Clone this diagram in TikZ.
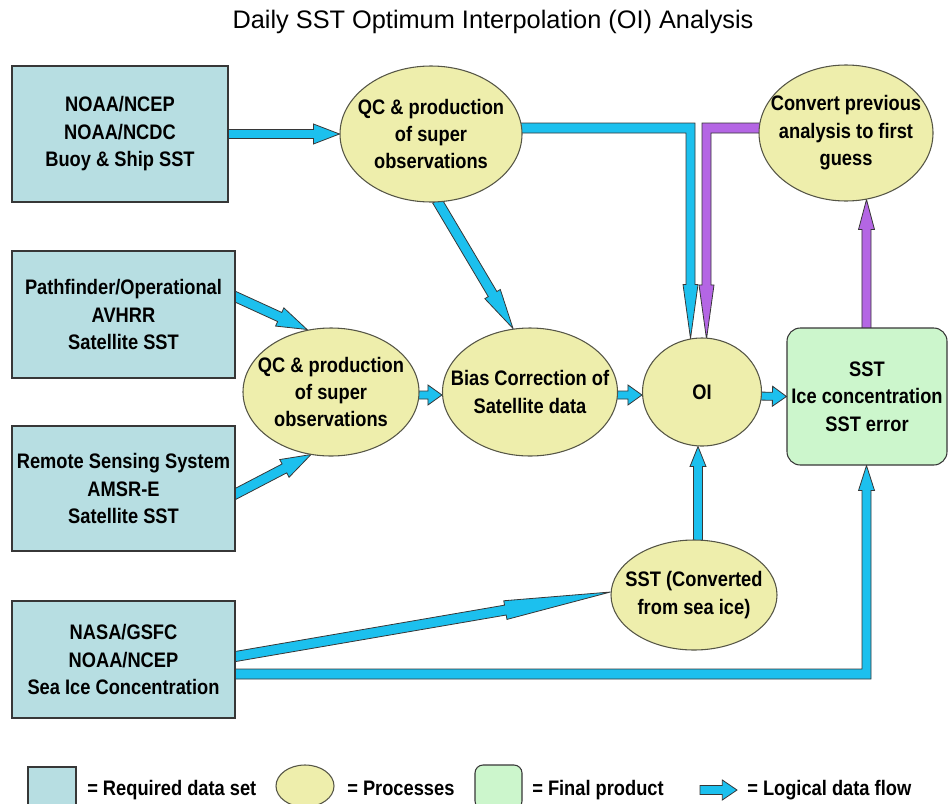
\documentclass[tikz,border=0pt]{standalone}
\usepackage{fontspec}
\setmainfont{Liberation Sans}
\newfontfamily\lblfont{Liberation Sans}[FakeStretch=0.87]
\newfontfamily\titlefont{Liberation Sans}
\usetikzlibrary{shapes.geometric,calc,backgrounds}
\definecolor{dsblue}{RGB}{183,222,226}
\definecolor{procyel}{RGB}{238,238,172}
\definecolor{fingreen}{RGB}{204,246,204}
\definecolor{flowblue}{RGB}{28,192,238}
\definecolor{flowpurple}{RGB}{180,102,228}
\definecolor{edgegray}{RGB}{55,55,55}
\definecolor{procedge}{RGB}{85,85,70}
\newcommand{\lbl}{\lblfont\bfseries\fontsize{15.75}{20.6}\selectfont}
% straight block arrow: #1 style, #2 start, #3 tip, #4 half shaft, #5 half head, #6 head length
\newcommand{\blockarrow}[6]{%
  \path (#2) coordinate (baS) (#3) coordinate (baT);
  \path ($(baT)!#6!(baS)$) coordinate (baM);
  \filldraw[#1] ($(baS)!#4!90:(baT)$) -- ($(baM)!#4!90:(baT)$) -- ($(baM)!#5!90:(baT)$)
    -- (baT) -- ($(baM)!#5!-90:(baT)$) -- ($(baM)!#4!-90:(baT)$) -- ($(baS)!#4!-90:(baT)$) -- cycle;}
\tikzset{
  databox/.style={draw=edgegray, fill=dsblue, line width=0.8pt, inner sep=0pt, align=center, font=\lbl},
  proc/.style={ellipse, draw=procedge, fill=procyel, line width=0.8pt, inner sep=0pt},
  proctext/.style={label={[font=\lbl, align=center, inner sep=0pt]center:#1}},
  final/.style={draw=edgegray, fill=fingreen, line width=0.8pt, rounded corners=10pt, inner sep=0pt, align=center, font=\lbl},
  flow/.style={draw=edgegray, line width=0.6pt, fill=flowblue, line join=miter},
  flowp/.style={flow, fill=flowpurple},
  legtext/.style={anchor=base west, inner sep=0pt, font=\lbl}
}
\begin{document}
\begin{tikzpicture}[x=0.75pt,y=-0.75pt]
\useasboundingbox (0,0) rectangle (948,803);
\clip (0,0) rectangle (948,803);

\node[inner sep=0pt, font=\titlefont\fontsize{19}{22}\selectfont] (title) at (493,22) {Daily SST Optimum Interpolation (OI) Analysis};

% data sets
\node[databox, minimum width=162pt, minimum height=102pt] (b1) at (120,134) {NOAA/NCEP\\NOAA/NCDC\\Buoy \& Ship SST};
\node[databox, minimum width=167.25pt, minimum height=95.25pt] (b2) at (123.5,314.5) {Pathfinder/Operational\\AVHRR\\Satellite SST};
\node[databox, minimum width=167.25pt, minimum height=93.75pt] (b3) at (123.5,488.5) {Remote Sensing System\\AMSR-E\\Satellite SST};
\node[databox, minimum width=167.25pt, minimum height=87.75pt] (b4) at (123.5,659.5) {NASA/GSFC\\NOAA/NCEP\\Sea Ice Concentration};

% processes
\node[proc, minimum width=136.5pt, minimum height=102pt, proctext={QC \& production\\of super\\observations}] (e1) at (431,134) {};
\node[proc, minimum width=132pt, minimum height=96pt, proctext={QC \& production\\of super\\observations}] (e2) at (331,392) {};
\node[proc, minimum width=131.25pt, minimum height=96pt, proctext={Bias Correction of\\Satellite data}] (e3) at (530,392) {};
\node[proc, minimum width=89.25pt, minimum height=81pt, proctext={OI}] (e4) at (702,392) {};
\node[proc, minimum width=124.5pt, minimum height=82.5pt, proctext={SST (Converted\\from sea ice)}] (e5) at (694,595) {};
\node[proc, minimum width=130.5pt, minimum height=102pt, proctext={Convert previous\\analysis to first\\guess}] (e6) at (846,133) {};

% final product
\node[final, minimum width=120pt, minimum height=102.75pt] (g) at (867,396.5) {SST\\Ice concentration\\SST error};

% connectors
\begin{scope}[on background layer]
\blockarrow{flow}{b1.east}{e1.west}{3.4pt}{7.5pt}{19.5pt}
\blockarrow{flow}{$(e1.south)+(6,-2)$}{$(e3.north)+(-17,1)$}{3.75pt}{6.75pt}{30pt}
\blockarrow{flow}{$(b2.east)+(-5,-20)$}{$(e2.north)+(-24,2)$}{3.75pt}{7.5pt}{22.5pt}
\blockarrow{flow}{$(b3.east)+(-5,8)$}{$(e2.south)+(-20,-2)$}{3.75pt}{7.5pt}{22.5pt}
\blockarrow{flow}{$(e2.east)+(-5,3)$}{$(e3.west)+(0,3)$}{3pt}{7.5pt}{10.5pt}
\blockarrow{flow}{$(e3.east)+(-5,3)$}{$(e4.west)+(0,3)$}{3pt}{7.5pt}{10.5pt}
\blockarrow{flow}{$(e4.east)+(-5,4)$}{g.west}{3pt}{7.5pt}{10.5pt}
\blockarrow{flow}{$(e5.north)+(4,5)$}{$(e4.south)+(-4,0)$}{3.4pt}{6pt}{15pt}
\blockarrow{flow}{$(b4.east)+(-3,-2.5)$}{$(e5.west)+(0,-3)$}{3.75pt}{7.1pt}{80pt}
\blockarrow{flowp}{$(g.north)+(-0.5,2)$}{$(e6.south)+(20.5,-2)$}{3.4pt}{6pt}{22.5pt}

% elbow: e1 -> OI (blue)
\coordinate (cA) at (690.5,128);
\coordinate (tA) at ($(e4.north)+(-11.5,1)$);
\filldraw[flow] ($(e1.east|-cA)+(-4,-5)$) -- ($(cA)+(4.5,-5)$) -- ($(tA)+(4.5,-54)$) -- ($(tA)+(7.5,-54)$)
  -- (tA) -- ($(tA)+(-7.5,-54)$) -- ($(tA)+(-4.5,-54)$) -- ($(cA)+(-4.5,5)$) -- ($(e1.east|-cA)+(-4,5)$) -- cycle;
% elbow: e6 -> OI (purple)
\coordinate (cB) at (706.5,128);
\coordinate (tB) at ($(e4.north)+(4.5,1.5)$);
\filldraw[flowp] ($(e6.west|-cB)+(4,-5)$) -- ($(cB)+(-4.5,-5)$) -- ($(tB)+(-4.5,-54)$) -- ($(tB)+(-7.5,-54)$)
  -- (tB) -- ($(tB)+(7.5,-54)$) -- ($(tB)+(4.5,-54)$) -- ($(cB)+(4.5,5)$) -- ($(e6.west|-cB)+(4,5)$) -- cycle;
% elbow: sea ice -> final product
\coordinate (cC) at (866.5,674);
\coordinate (tC) at ($(g.south)+(-0.5,0)$);
\filldraw[flow] ($(b4.east|-cC)+(-3,-5)$) -- ($(cC)+(-4.5,-5)$) -- ($(tC)+(-4.5,25)$) -- ($(tC)+(-8,25)$)
  -- (tC) -- ($(tC)+(8,25)$) -- ($(tC)+(4.5,25)$) -- ($(cC)+(4.5,5)$) -- ($(b4.east|-cC)+(-3,5)$) -- cycle;
\end{scope}

% legend
\node[databox, minimum width=36pt, minimum height=30pt] (lg1) at (52,787) {};
\node[legtext] (lt1) at (87,795) {= Required data set};
\node[proc, minimum width=43.5pt, minimum height=31.5pt] (lg2) at (305,786) {};
\node[legtext] (lt2) at (347,795) {= Processes};
\node[final, rounded corners=6pt, minimum width=35.25pt, minimum height=33pt] (lg3) at (498.5,787) {};
\node[legtext] (lt3) at (532,795) {= Final product};
\coordinate (la1) at (700,790);
\coordinate (la2) at (737,790);
\blockarrow{flow}{la1}{la2}{3.4pt}{7.5pt}{11pt}
\node[legtext] (lt4) at (747,795) {= Logical data flow};
\end{tikzpicture}
\end{document}
